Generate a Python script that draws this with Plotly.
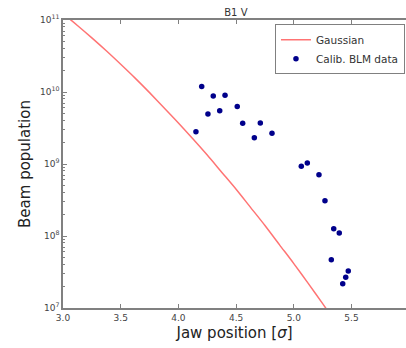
import plotly.graph_objects as go

data_x = [4.152, 4.202, 4.256, 4.302, 4.358, 4.404, 4.510, 4.557, 4.658, 4.710,
          4.811, 5.065, 5.117, 5.218, 5.270, 5.325, 5.346, 5.394, 5.424, 5.450, 5.472]
data_y = [2.81e9, 1.19e10, 4.95e9, 8.8e9, 5.5e9, 9.0e9, 6.3e9, 3.67e9, 2.32e9, 3.71e9,
          2.67e9, 9.3e8, 1.03e9, 7.1e8, 3.09e8, 4.69e7, 1.26e8, 1.10e8, 2.17e7, 2.67e7, 3.27e7]

# Gaussian curve
gauss_x = [3.0, 3.125, 3.25, 3.375, 3.5, 3.625, 3.75, 3.875, 4.0, 4.125, 4.25, 4.375,
           4.5, 4.625, 4.75, 4.875, 5.0, 5.125, 5.25, 5.35]
gauss_y = [1.23e11, 8.4e10, 5.65e10, 3.74e10, 2.43e10, 1.56e10, 9.8e9, 6.05e9, 3.72e9,
           2.24e9, 1.33e9, 7.7e8, 4.46e8, 2.5e8, 1.40e8, 7.6e7, 4.14e7, 2.2e7, 1.15e7, 6.8e6]

x_ticks = [3.0, 3.5, 4.0, 4.5, 5.0, 5.5]
x_ticklabels = ["3.0", "3.5", "4.0", "4.5", "5.0", "5.5"]
x_cut_label = "6"
y_ticks = [1e7, 1e8, 1e9, 1e10, 1e11]
y_ticklabels = ["10<sup>7</sup>", "10<sup>8</sup>", "10<sup>9</sup>", "10<sup>10</sup>", "10<sup>11</sup>"]

minor_y = [m * 10 ** e for e in range(7, 11) for m in range(2, 10)]

FONT = "DejaVu Sans"
AX = "#808080"

fig = go.Figure()
fig.add_trace(go.Scatter(x=gauss_x, y=gauss_y, mode="lines", name="Gaussian",
                         line=dict(color="rgba(255,0,0,0.55)", width=1.5, shape="spline",
                                   smoothing=0.8)))
fig.add_trace(go.Scatter(x=data_x, y=data_y, mode="markers", name="Calib. BLM data",
                         marker=dict(color="#00008b", size=5.5)))

fig.add_annotation(text=x_cut_label, xref="paper", yref="paper", x=(409 - 63) / 343, y=0,
                   yshift=-9, xanchor="center", yanchor="middle", showarrow=False,
                   font=dict(size=9, family=FONT, color="#444444"))

fig.update_layout(
    width=406, height=348,
    margin=dict(l=63, r=0, t=20, b=40, autoexpand=False),
    paper_bgcolor="white", plot_bgcolor="white",
    font=dict(family=FONT, color="#333333"),
    title=dict(text="B1 V", x=0.504, xref="paper", xanchor="center",
               y=1 - 12 / 348, yref="container", yanchor="middle",
               font=dict(size=10, family=FONT, color="#333333")),
    legend=dict(x=0.997, y=0.985, xanchor="right", yanchor="top",
                bordercolor=AX, borderwidth=1, bgcolor="white",
                font=dict(size=10.5, family=FONT, color="#333333"),
                itemwidth=30, tracegroupgap=0),
    showlegend=True,
)
fig.update_xaxes(
    range=[3.0, 3.0 + 343 / 115.4],
    tickvals=x_ticks, ticktext=x_ticklabels,
    ticks="inside", ticklen=4, tickcolor=AX, tickwidth=1,
    showline=True, linecolor=AX, linewidth=1.5, mirror="ticks",
    showgrid=False, zeroline=False,
    tickfont=dict(size=9, family=FONT, color="#444444"),
    title=dict(text="Jaw position [<i>σ</i>]", font=dict(size=15, family=FONT, color="#222222"),
               standoff=6),
)
fig.update_yaxes(
    type="log", range=[7, 11],
    tickvals=y_ticks, ticktext=y_ticklabels,
    ticks="inside", ticklen=4, tickcolor=AX, tickwidth=1,
    minor=dict(tickvals=minor_y, ticks="inside", ticklen=2, tickcolor=AX, showgrid=False),
    showline=True, linecolor=AX, linewidth=1.5, mirror=False,
    showgrid=False, zeroline=False,
    tickfont=dict(size=9, family=FONT, color="#444444"),
    title=dict(text="Beam population", font=dict(size=15, family=FONT, color="#222222"),
               standoff=6),
)

fig.write_html("out.html", config={"displayModeBar": False},
               post_script="document.body.style.margin='0';document.body.style.overflow='hidden';")
